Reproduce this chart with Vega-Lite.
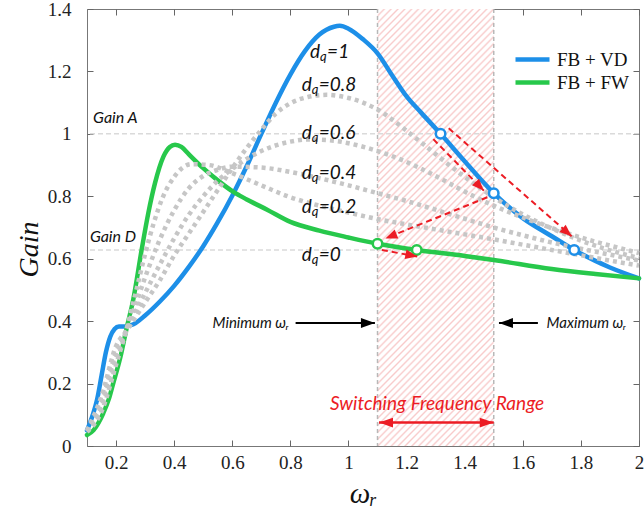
{
  "$schema": "https://vega.github.io/schema/vega-lite/v6.json",
  "width": 552,
  "height": 437,
  "autosize": {"type": "none"},
  "padding": {"left": 87, "top": 9, "right": 5, "bottom": 63},
  "background": "#ffffff",
  "config": {
    "view": {"stroke": "#777777", "strokeWidth": 1},
    "axis": {
      "grid": false,
      "domain": false,
      "ticks": true,
      "tickColor": "#666666",
      "tickSize": 6,
      "tickWidth": 1,
      "offset": -6,
      "zindex": 1,
      "labelFont": "Liberation Serif",
      "labelFontSize": 19,
      "labelColor": "#222222",
      "titleFont": "Liberation Serif",
      "titleFontStyle": "italic",
      "titleFontWeight": "normal",
      "titleColor": "#111111"
    }
  },
  "datasets": {
    "curves": [
      {"w": 0.1, "g": 0.05, "s": "FB + VD"}, {"w": 0.12, "g": 0.1, "s": "FB + VD"}, {"w": 0.135, "g": 0.15, "s": "FB + VD"},
      {"w": 0.15, "g": 0.225, "s": "FB + VD"}, {"w": 0.165, "g": 0.3, "s": "FB + VD"}, {"w": 0.18, "g": 0.35, "s": "FB + VD"},
      {"w": 0.195, "g": 0.375, "s": "FB + VD"}, {"w": 0.21, "g": 0.383, "s": "FB + VD"}, {"w": 0.23, "g": 0.383, "s": "FB + VD"},
      {"w": 0.26, "g": 0.39, "s": "FB + VD"}, {"w": 0.3, "g": 0.418, "s": "FB + VD"}, {"w": 0.35, "g": 0.462, "s": "FB + VD"},
      {"w": 0.4, "g": 0.513, "s": "FB + VD"}, {"w": 0.45, "g": 0.573, "s": "FB + VD"}, {"w": 0.5, "g": 0.64, "s": "FB + VD"},
      {"w": 0.55, "g": 0.717, "s": "FB + VD"}, {"w": 0.6, "g": 0.802, "s": "FB + VD"}, {"w": 0.65, "g": 0.897, "s": "FB + VD"},
      {"w": 0.7, "g": 1.0, "s": "FB + VD"}, {"w": 0.75, "g": 1.1, "s": "FB + VD"}, {"w": 0.8, "g": 1.19, "s": "FB + VD"},
      {"w": 0.85, "g": 1.265, "s": "FB + VD"}, {"w": 0.9, "g": 1.318, "s": "FB + VD"}, {"w": 0.95, "g": 1.343, "s": "FB + VD"},
      {"w": 0.97, "g": 1.346, "s": "FB + VD"}, {"w": 1.0, "g": 1.337, "s": "FB + VD"}, {"w": 1.05, "g": 1.303, "s": "FB + VD"},
      {"w": 1.1, "g": 1.258, "s": "FB + VD"}, {"w": 1.15, "g": 1.188, "s": "FB + VD"}, {"w": 1.2, "g": 1.12, "s": "FB + VD"},
      {"w": 1.25, "g": 1.068, "s": "FB + VD"}, {"w": 1.317, "g": 1.0, "s": "FB + VD"}, {"w": 1.4, "g": 0.912, "s": "FB + VD"},
      {"w": 1.5, "g": 0.81, "s": "FB + VD"}, {"w": 1.6, "g": 0.73, "s": "FB + VD"}, {"w": 1.7, "g": 0.672, "s": "FB + VD"},
      {"w": 1.777, "g": 0.628, "s": "FB + VD"}, {"w": 1.85, "g": 0.593, "s": "FB + VD"}, {"w": 1.9, "g": 0.572, "s": "FB + VD"},
      {"w": 2.0, "g": 0.537, "s": "FB + VD"},
      {"w": 0.1, "g": 0.035, "s": "FB + FW"}, {"w": 0.122, "g": 0.05, "s": "FB + FW"}, {"w": 0.14, "g": 0.075, "s": "FB + FW"},
      {"w": 0.156, "g": 0.105, "s": "FB + FW"}, {"w": 0.175, "g": 0.15, "s": "FB + FW"}, {"w": 0.19, "g": 0.2, "s": "FB + FW"},
      {"w": 0.215, "g": 0.285, "s": "FB + FW"}, {"w": 0.237, "g": 0.38, "s": "FB + FW"}, {"w": 0.259, "g": 0.468, "s": "FB + FW"},
      {"w": 0.288, "g": 0.628, "s": "FB + FW"}, {"w": 0.311, "g": 0.746, "s": "FB + FW"}, {"w": 0.334, "g": 0.842, "s": "FB + FW"},
      {"w": 0.363, "g": 0.927, "s": "FB + FW"}, {"w": 0.385, "g": 0.958, "s": "FB + FW"}, {"w": 0.403, "g": 0.965, "s": "FB + FW"},
      {"w": 0.425, "g": 0.958, "s": "FB + FW"}, {"w": 0.45, "g": 0.935, "s": "FB + FW"}, {"w": 0.5, "g": 0.89, "s": "FB + FW"},
      {"w": 0.55, "g": 0.851, "s": "FB + FW"}, {"w": 0.604, "g": 0.814, "s": "FB + FW"}, {"w": 0.65, "g": 0.79, "s": "FB + FW"},
      {"w": 0.72, "g": 0.757, "s": "FB + FW"}, {"w": 0.8, "g": 0.718, "s": "FB + FW"}, {"w": 0.9, "g": 0.69, "s": "FB + FW"},
      {"w": 1.0, "g": 0.668, "s": "FB + FW"}, {"w": 1.1, "g": 0.648, "s": "FB + FW"}, {"w": 1.235, "g": 0.628, "s": "FB + FW"},
      {"w": 1.4, "g": 0.609, "s": "FB + FW"}, {"w": 1.5, "g": 0.596, "s": "FB + FW"}, {"w": 1.7, "g": 0.567, "s": "FB + FW"},
      {"w": 1.85, "g": 0.551, "s": "FB + FW"}, {"w": 2.0, "g": 0.537, "s": "FB + FW"}
    ],
    "dq": [
      {"w": 0.1, "g": 0.045, "dq": "0.2"}, {"w": 0.15, "g": 0.11, "dq": "0.2"}, {"w": 0.2, "g": 0.26, "dq": "0.2"},
      {"w": 0.237, "g": 0.378, "dq": "0.2"}, {"w": 0.27, "g": 0.5, "dq": "0.2"}, {"w": 0.3, "g": 0.615, "dq": "0.2"},
      {"w": 0.33, "g": 0.715, "dq": "0.2"}, {"w": 0.36, "g": 0.795, "dq": "0.2"}, {"w": 0.4, "g": 0.862, "dq": "0.2"},
      {"w": 0.46, "g": 0.903, "dq": "0.2"}, {"w": 0.52, "g": 0.9, "dq": "0.2"}, {"w": 0.6, "g": 0.874, "dq": "0.2"},
      {"w": 0.7, "g": 0.835, "dq": "0.2"}, {"w": 0.8, "g": 0.797, "dq": "0.2"}, {"w": 0.9, "g": 0.77, "dq": "0.2"},
      {"w": 1.0, "g": 0.748, "dq": "0.2"}, {"w": 1.1, "g": 0.727, "dq": "0.2"}, {"w": 1.2, "g": 0.71, "dq": "0.2"},
      {"w": 1.3, "g": 0.694, "dq": "0.2"}, {"w": 1.4, "g": 0.678, "dq": "0.2"}, {"w": 1.5, "g": 0.662, "dq": "0.2"},
      {"w": 1.6, "g": 0.645, "dq": "0.2"}, {"w": 1.7, "g": 0.628, "dq": "0.2"}, {"w": 1.8, "g": 0.611, "dq": "0.2"},
      {"w": 1.9, "g": 0.594, "dq": "0.2"}, {"w": 2.0, "g": 0.578, "dq": "0.2"},
      {"w": 0.1, "g": 0.047, "dq": "0.4"}, {"w": 0.15, "g": 0.125, "dq": "0.4"}, {"w": 0.2, "g": 0.28, "dq": "0.4"},
      {"w": 0.237, "g": 0.375, "dq": "0.4"}, {"w": 0.27, "g": 0.46, "dq": "0.4"}, {"w": 0.3, "g": 0.54, "dq": "0.4"},
      {"w": 0.35, "g": 0.66, "dq": "0.4"}, {"w": 0.4, "g": 0.755, "dq": "0.4"}, {"w": 0.45, "g": 0.825, "dq": "0.4"},
      {"w": 0.5, "g": 0.865, "dq": "0.4"}, {"w": 0.55, "g": 0.885, "dq": "0.4"}, {"w": 0.6, "g": 0.895, "dq": "0.4"},
      {"w": 0.7, "g": 0.892, "dq": "0.4"}, {"w": 0.8, "g": 0.878, "dq": "0.4"}, {"w": 0.9, "g": 0.858, "dq": "0.4"},
      {"w": 1.0, "g": 0.835, "dq": "0.4"}, {"w": 1.1, "g": 0.81, "dq": "0.4"}, {"w": 1.2, "g": 0.785, "dq": "0.4"},
      {"w": 1.3, "g": 0.757, "dq": "0.4"}, {"w": 1.4, "g": 0.728, "dq": "0.4"}, {"w": 1.5, "g": 0.7, "dq": "0.4"},
      {"w": 1.6, "g": 0.675, "dq": "0.4"}, {"w": 1.7, "g": 0.652, "dq": "0.4"}, {"w": 1.8, "g": 0.632, "dq": "0.4"},
      {"w": 1.9, "g": 0.613, "dq": "0.4"}, {"w": 2.0, "g": 0.594, "dq": "0.4"},
      {"w": 0.1, "g": 0.048, "dq": "0.6"}, {"w": 0.15, "g": 0.14, "dq": "0.6"}, {"w": 0.2, "g": 0.3, "dq": "0.6"},
      {"w": 0.237, "g": 0.372, "dq": "0.6"}, {"w": 0.3, "g": 0.49, "dq": "0.6"}, {"w": 0.35, "g": 0.58, "dq": "0.6"},
      {"w": 0.4, "g": 0.665, "dq": "0.6"}, {"w": 0.45, "g": 0.74, "dq": "0.6"}, {"w": 0.5, "g": 0.8, "dq": "0.6"},
      {"w": 0.55, "g": 0.85, "dq": "0.6"}, {"w": 0.6, "g": 0.888, "dq": "0.6"}, {"w": 0.65, "g": 0.92, "dq": "0.6"},
      {"w": 0.7, "g": 0.945, "dq": "0.6"}, {"w": 0.8, "g": 0.975, "dq": "0.6"}, {"w": 0.86, "g": 0.982, "dq": "0.6"},
      {"w": 0.95, "g": 0.978, "dq": "0.6"}, {"w": 1.0, "g": 0.97, "dq": "0.6"}, {"w": 1.1, "g": 0.945, "dq": "0.6"},
      {"w": 1.2, "g": 0.91, "dq": "0.6"}, {"w": 1.3, "g": 0.865, "dq": "0.6"}, {"w": 1.4, "g": 0.815, "dq": "0.6"},
      {"w": 1.5, "g": 0.77, "dq": "0.6"}, {"w": 1.6, "g": 0.732, "dq": "0.6"}, {"w": 1.7, "g": 0.698, "dq": "0.6"},
      {"w": 1.8, "g": 0.668, "dq": "0.6"}, {"w": 1.9, "g": 0.642, "dq": "0.6"}, {"w": 2.0, "g": 0.618, "dq": "0.6"},
      {"w": 0.1, "g": 0.05, "dq": "0.8"}, {"w": 0.15, "g": 0.16, "dq": "0.8"}, {"w": 0.2, "g": 0.32, "dq": "0.8"},
      {"w": 0.237, "g": 0.37, "dq": "0.8"}, {"w": 0.3, "g": 0.46, "dq": "0.8"}, {"w": 0.35, "g": 0.53, "dq": "0.8"},
      {"w": 0.4, "g": 0.61, "dq": "0.8"}, {"w": 0.45, "g": 0.68, "dq": "0.8"}, {"w": 0.5, "g": 0.75, "dq": "0.8"},
      {"w": 0.55, "g": 0.82, "dq": "0.8"}, {"w": 0.6, "g": 0.89, "dq": "0.8"}, {"w": 0.65, "g": 0.955, "dq": "0.8"},
      {"w": 0.7, "g": 1.013, "dq": "0.8"}, {"w": 0.75, "g": 1.065, "dq": "0.8"}, {"w": 0.8, "g": 1.098, "dq": "0.8"},
      {"w": 0.86, "g": 1.118, "dq": "0.8"}, {"w": 0.925, "g": 1.125, "dq": "0.8"}, {"w": 1.0, "g": 1.115, "dq": "0.8"},
      {"w": 1.1, "g": 1.078, "dq": "0.8"}, {"w": 1.2, "g": 1.01, "dq": "0.8"}, {"w": 1.3, "g": 0.935, "dq": "0.8"},
      {"w": 1.4, "g": 0.862, "dq": "0.8"}, {"w": 1.5, "g": 0.797, "dq": "0.8"}, {"w": 1.6, "g": 0.742, "dq": "0.8"},
      {"w": 1.7, "g": 0.697, "dq": "0.8"}, {"w": 1.8, "g": 0.658, "dq": "0.8"}, {"w": 1.9, "g": 0.627, "dq": "0.8"},
      {"w": 2.0, "g": 0.602, "dq": "0.8"}
    ],
    "marked": [
      {"w": 1.317, "g": 1.0, "s": "FB + VD"},
      {"w": 1.5, "g": 0.81, "s": "FB + VD"},
      {"w": 1.777, "g": 0.628, "s": "FB + VD"},
      {"w": 1.1, "g": 0.648, "s": "FB + FW"},
      {"w": 1.235, "g": 0.628, "s": "FB + FW"}
    ],
    "band": [{"lo": 1.1, "hi": 1.5, "g0": 0, "g1": 1.4}],
    "bounds": [{"w": 1.1}, {"w": 1.5}],
    "gains": [{"g": 1.0}, {"g": 0.628}],
    "redArrows": [
      {"id": "a1", "x": 1.292, "y": 0.983, "x2": 1.466, "y2": 0.818},
      {"id": "a2", "x": 1.345, "y": 1.018, "x2": 1.768, "y2": 0.672},
      {"id": "a3", "x": 1.478, "y": 0.797, "x2": 1.127, "y2": 0.665},
      {"id": "a4", "x": 1.115, "y": 0.628, "x2": 1.237, "y2": 0.607}
    ],
    "limits": [
      {"side": "min", "x": 0.818, "x2": 1.091, "y": 0.394},
      {"side": "max", "x": 1.652, "x2": 1.518, "y": 0.394}
    ],
    "range": [{"x": 1.105, "x2": 1.5, "y": 0.075}],
    "dqLabels": [
      {"x": 0.868, "y": 1.263, "v": "=1"},
      {"x": 0.839, "y": 1.157, "v": "=0.8"},
      {"x": 0.839, "y": 1.002, "v": "=0.6"},
      {"x": 0.839, "y": 0.874, "v": "=0.4"},
      {"x": 0.839, "y": 0.767, "v": "=0.2"},
      {"x": 0.839, "y": 0.612, "v": "=0"}
    ],
    "notes": [
      {"id": "gain", "x": 0.121, "y": 1.051, "t": "Gain A"},
      {"id": "gain", "x": 0.11, "y": 0.671, "t": "Gain D"},
      {"id": "min", "x": 0.795, "y": 0.394, "t": "Minimum ωᵣ"},
      {"id": "max", "x": 1.682, "y": 0.394, "t": "Maximum ωᵣ"},
      {"id": "sw", "x": 1.305, "y": 0.134, "t": "Switching Frequency Range"}
    ]
  },
  "layer": [
    {
      "data": {"name": "band"},
      "mark": {
        "type": "rect",
        "fill": {
          "gradient": "linear", "x1": 0, "y1": 0, "x2": 0.32, "y2": 1.184,
          "stops": [
            {"offset": 0, "color": "#f8caca"}, {"offset": 0.0035, "color": "#ffffff"}, {"offset": 0.009, "color": "#ffffff"},
            {"offset": 0.0125, "color": "#f8caca"}, {"offset": 0.016, "color": "#ffffff"}, {"offset": 0.0215, "color": "#ffffff"},
            {"offset": 0.025, "color": "#f8caca"}, {"offset": 0.0285, "color": "#ffffff"}, {"offset": 0.034, "color": "#ffffff"},
            {"offset": 0.0375, "color": "#f8caca"}, {"offset": 0.041, "color": "#ffffff"}, {"offset": 0.0465, "color": "#ffffff"},
            {"offset": 0.05, "color": "#f8caca"}, {"offset": 0.0535, "color": "#ffffff"}, {"offset": 0.059, "color": "#ffffff"},
            {"offset": 0.0625, "color": "#f8caca"}, {"offset": 0.066, "color": "#ffffff"}, {"offset": 0.0715, "color": "#ffffff"},
            {"offset": 0.075, "color": "#f8caca"}, {"offset": 0.0785, "color": "#ffffff"}, {"offset": 0.084, "color": "#ffffff"},
            {"offset": 0.0875, "color": "#f8caca"}, {"offset": 0.091, "color": "#ffffff"}, {"offset": 0.0965, "color": "#ffffff"},
            {"offset": 0.1, "color": "#f8caca"}, {"offset": 0.1035, "color": "#ffffff"}, {"offset": 0.109, "color": "#ffffff"},
            {"offset": 0.1125, "color": "#f8caca"}, {"offset": 0.116, "color": "#ffffff"}, {"offset": 0.1215, "color": "#ffffff"},
            {"offset": 0.125, "color": "#f8caca"}, {"offset": 0.1285, "color": "#ffffff"}, {"offset": 0.134, "color": "#ffffff"},
            {"offset": 0.1375, "color": "#f8caca"}, {"offset": 0.141, "color": "#ffffff"}, {"offset": 0.1465, "color": "#ffffff"},
            {"offset": 0.15, "color": "#f8caca"}, {"offset": 0.1535, "color": "#ffffff"}, {"offset": 0.159, "color": "#ffffff"},
            {"offset": 0.1625, "color": "#f8caca"}, {"offset": 0.166, "color": "#ffffff"}, {"offset": 0.1715, "color": "#ffffff"},
            {"offset": 0.175, "color": "#f8caca"}, {"offset": 0.1785, "color": "#ffffff"}, {"offset": 0.184, "color": "#ffffff"},
            {"offset": 0.1875, "color": "#f8caca"}, {"offset": 0.191, "color": "#ffffff"}, {"offset": 0.1965, "color": "#ffffff"},
            {"offset": 0.2, "color": "#f8caca"}, {"offset": 0.2035, "color": "#ffffff"}, {"offset": 0.209, "color": "#ffffff"},
            {"offset": 0.2125, "color": "#f8caca"}, {"offset": 0.216, "color": "#ffffff"}, {"offset": 0.2215, "color": "#ffffff"},
            {"offset": 0.225, "color": "#f8caca"}, {"offset": 0.2285, "color": "#ffffff"}, {"offset": 0.234, "color": "#ffffff"},
            {"offset": 0.2375, "color": "#f8caca"}, {"offset": 0.241, "color": "#ffffff"}, {"offset": 0.2465, "color": "#ffffff"},
            {"offset": 0.25, "color": "#f8caca"}, {"offset": 0.2535, "color": "#ffffff"}, {"offset": 0.259, "color": "#ffffff"},
            {"offset": 0.2625, "color": "#f8caca"}, {"offset": 0.266, "color": "#ffffff"}, {"offset": 0.2715, "color": "#ffffff"},
            {"offset": 0.275, "color": "#f8caca"}, {"offset": 0.2785, "color": "#ffffff"}, {"offset": 0.284, "color": "#ffffff"},
            {"offset": 0.2875, "color": "#f8caca"}, {"offset": 0.291, "color": "#ffffff"}, {"offset": 0.2965, "color": "#ffffff"},
            {"offset": 0.3, "color": "#f8caca"}, {"offset": 0.3035, "color": "#ffffff"}, {"offset": 0.309, "color": "#ffffff"},
            {"offset": 0.3125, "color": "#f8caca"}, {"offset": 0.316, "color": "#ffffff"}, {"offset": 0.3215, "color": "#ffffff"},
            {"offset": 0.325, "color": "#f8caca"}, {"offset": 0.3285, "color": "#ffffff"}, {"offset": 0.334, "color": "#ffffff"},
            {"offset": 0.3375, "color": "#f8caca"}, {"offset": 0.341, "color": "#ffffff"}, {"offset": 0.3465, "color": "#ffffff"},
            {"offset": 0.35, "color": "#f8caca"}, {"offset": 0.3535, "color": "#ffffff"}, {"offset": 0.359, "color": "#ffffff"},
            {"offset": 0.3625, "color": "#f8caca"}, {"offset": 0.366, "color": "#ffffff"}, {"offset": 0.3715, "color": "#ffffff"},
            {"offset": 0.375, "color": "#f8caca"}, {"offset": 0.3785, "color": "#ffffff"}, {"offset": 0.384, "color": "#ffffff"},
            {"offset": 0.3875, "color": "#f8caca"}, {"offset": 0.391, "color": "#ffffff"}, {"offset": 0.3965, "color": "#ffffff"},
            {"offset": 0.4, "color": "#f8caca"}, {"offset": 0.4035, "color": "#ffffff"}, {"offset": 0.409, "color": "#ffffff"},
            {"offset": 0.4125, "color": "#f8caca"}, {"offset": 0.416, "color": "#ffffff"}, {"offset": 0.4215, "color": "#ffffff"},
            {"offset": 0.425, "color": "#f8caca"}, {"offset": 0.4285, "color": "#ffffff"}, {"offset": 0.434, "color": "#ffffff"},
            {"offset": 0.4375, "color": "#f8caca"}, {"offset": 0.441, "color": "#ffffff"}, {"offset": 0.4465, "color": "#ffffff"},
            {"offset": 0.45, "color": "#f8caca"}, {"offset": 0.4535, "color": "#ffffff"}, {"offset": 0.459, "color": "#ffffff"},
            {"offset": 0.4625, "color": "#f8caca"}, {"offset": 0.466, "color": "#ffffff"}, {"offset": 0.4715, "color": "#ffffff"},
            {"offset": 0.475, "color": "#f8caca"}, {"offset": 0.4785, "color": "#ffffff"}, {"offset": 0.484, "color": "#ffffff"},
            {"offset": 0.4875, "color": "#f8caca"}, {"offset": 0.491, "color": "#ffffff"}, {"offset": 0.4965, "color": "#ffffff"},
            {"offset": 0.5, "color": "#f8caca"}, {"offset": 0.5035, "color": "#ffffff"}, {"offset": 0.509, "color": "#ffffff"},
            {"offset": 0.5125, "color": "#f8caca"}, {"offset": 0.516, "color": "#ffffff"}, {"offset": 0.5215, "color": "#ffffff"},
            {"offset": 0.525, "color": "#f8caca"}, {"offset": 0.5285, "color": "#ffffff"}, {"offset": 0.534, "color": "#ffffff"},
            {"offset": 0.5375, "color": "#f8caca"}, {"offset": 0.541, "color": "#ffffff"}, {"offset": 0.5465, "color": "#ffffff"},
            {"offset": 0.55, "color": "#f8caca"}, {"offset": 0.5535, "color": "#ffffff"}, {"offset": 0.559, "color": "#ffffff"},
            {"offset": 0.5625, "color": "#f8caca"}, {"offset": 0.566, "color": "#ffffff"}, {"offset": 0.5715, "color": "#ffffff"},
            {"offset": 0.575, "color": "#f8caca"}, {"offset": 0.5785, "color": "#ffffff"}, {"offset": 0.584, "color": "#ffffff"},
            {"offset": 0.5875, "color": "#f8caca"}, {"offset": 0.591, "color": "#ffffff"}, {"offset": 0.5965, "color": "#ffffff"},
            {"offset": 0.6, "color": "#f8caca"}, {"offset": 0.6035, "color": "#ffffff"}, {"offset": 0.609, "color": "#ffffff"},
            {"offset": 0.6125, "color": "#f8caca"}, {"offset": 0.616, "color": "#ffffff"}, {"offset": 0.6215, "color": "#ffffff"},
            {"offset": 0.625, "color": "#f8caca"}, {"offset": 0.6285, "color": "#ffffff"}, {"offset": 0.634, "color": "#ffffff"},
            {"offset": 0.6375, "color": "#f8caca"}, {"offset": 0.641, "color": "#ffffff"}, {"offset": 0.6465, "color": "#ffffff"},
            {"offset": 0.65, "color": "#f8caca"}, {"offset": 0.6535, "color": "#ffffff"}, {"offset": 0.659, "color": "#ffffff"},
            {"offset": 0.6625, "color": "#f8caca"}, {"offset": 0.666, "color": "#ffffff"}, {"offset": 0.6715, "color": "#ffffff"},
            {"offset": 0.675, "color": "#f8caca"}, {"offset": 0.6785, "color": "#ffffff"}, {"offset": 0.684, "color": "#ffffff"},
            {"offset": 0.6875, "color": "#f8caca"}, {"offset": 0.691, "color": "#ffffff"}, {"offset": 0.6965, "color": "#ffffff"},
            {"offset": 0.7, "color": "#f8caca"}, {"offset": 0.7035, "color": "#ffffff"}, {"offset": 0.709, "color": "#ffffff"},
            {"offset": 0.7125, "color": "#f8caca"}, {"offset": 0.716, "color": "#ffffff"}, {"offset": 0.7215, "color": "#ffffff"},
            {"offset": 0.725, "color": "#f8caca"}, {"offset": 0.7285, "color": "#ffffff"}, {"offset": 0.734, "color": "#ffffff"},
            {"offset": 0.7375, "color": "#f8caca"}, {"offset": 0.741, "color": "#ffffff"}, {"offset": 0.7465, "color": "#ffffff"},
            {"offset": 0.75, "color": "#f8caca"}, {"offset": 0.7535, "color": "#ffffff"}, {"offset": 0.759, "color": "#ffffff"},
            {"offset": 0.7625, "color": "#f8caca"}, {"offset": 0.766, "color": "#ffffff"}, {"offset": 0.7715, "color": "#ffffff"},
            {"offset": 0.775, "color": "#f8caca"}, {"offset": 0.7785, "color": "#ffffff"}, {"offset": 0.784, "color": "#ffffff"},
            {"offset": 0.7875, "color": "#f8caca"}, {"offset": 0.791, "color": "#ffffff"}, {"offset": 0.7965, "color": "#ffffff"},
            {"offset": 0.8, "color": "#f8caca"}, {"offset": 0.8035, "color": "#ffffff"}, {"offset": 0.809, "color": "#ffffff"},
            {"offset": 0.8125, "color": "#f8caca"}, {"offset": 0.816, "color": "#ffffff"}, {"offset": 0.8215, "color": "#ffffff"},
            {"offset": 0.825, "color": "#f8caca"}, {"offset": 0.8285, "color": "#ffffff"}, {"offset": 0.834, "color": "#ffffff"},
            {"offset": 0.8375, "color": "#f8caca"}, {"offset": 0.841, "color": "#ffffff"}, {"offset": 0.8465, "color": "#ffffff"},
            {"offset": 0.85, "color": "#f8caca"}, {"offset": 0.8535, "color": "#ffffff"}, {"offset": 0.859, "color": "#ffffff"},
            {"offset": 0.8625, "color": "#f8caca"}, {"offset": 0.866, "color": "#ffffff"}, {"offset": 0.8715, "color": "#ffffff"},
            {"offset": 0.875, "color": "#f8caca"}, {"offset": 0.8785, "color": "#ffffff"}, {"offset": 0.884, "color": "#ffffff"},
            {"offset": 0.8875, "color": "#f8caca"}, {"offset": 0.891, "color": "#ffffff"}, {"offset": 0.8965, "color": "#ffffff"},
            {"offset": 0.9, "color": "#f8caca"}, {"offset": 0.9035, "color": "#ffffff"}, {"offset": 0.909, "color": "#ffffff"},
            {"offset": 0.9125, "color": "#f8caca"}, {"offset": 0.916, "color": "#ffffff"}, {"offset": 0.9215, "color": "#ffffff"},
            {"offset": 0.925, "color": "#f8caca"}, {"offset": 0.9285, "color": "#ffffff"}, {"offset": 0.934, "color": "#ffffff"},
            {"offset": 0.9375, "color": "#f8caca"}, {"offset": 0.941, "color": "#ffffff"}, {"offset": 0.9465, "color": "#ffffff"},
            {"offset": 0.95, "color": "#f8caca"}, {"offset": 0.9535, "color": "#ffffff"}, {"offset": 0.959, "color": "#ffffff"},
            {"offset": 0.9625, "color": "#f8caca"}, {"offset": 0.966, "color": "#ffffff"}, {"offset": 0.9715, "color": "#ffffff"},
            {"offset": 0.975, "color": "#f8caca"}, {"offset": 0.9785, "color": "#ffffff"}, {"offset": 0.984, "color": "#ffffff"},
            {"offset": 0.9875, "color": "#f8caca"}, {"offset": 0.991, "color": "#ffffff"}, {"offset": 0.9965, "color": "#ffffff"},
            {"offset": 1, "color": "#f8caca"}
          ]
        }
      },
      "encoding": {
        "x": {
          "field": "lo", "type": "quantitative",
          "scale": {"domain": [0.1, 2], "nice": false, "zero": false},
          "axis": {
            "orient": "bottom",
            "values": [0.2, 0.4, 0.6, 0.8, 1, 1.2, 1.4, 1.6, 1.8, 2],
            "format": ".1~f", "labelPadding": 7, "labelFlush": false,
            "title": "ωᵣ", "titleFontSize": 29, "titlePadding": 7
          }
        },
        "x2": {"field": "hi"},
        "y": {
          "field": "g0", "type": "quantitative",
          "scale": {"domain": [0, 1.4], "nice": false, "zero": false},
          "axis": {
            "orient": "left",
            "values": [0, 0.2, 0.4, 0.6, 0.8, 1, 1.2, 1.4],
            "format": ".1~f", "labelPadding": 16,
            "title": "Gain", "titleFontSize": 28,
            "titleAngle": -90, "titleAlign": "center", "titleBaseline": "middle",
            "titleX": -64, "titleY": 240
          }
        },
        "y2": {"field": "g1"}
      }
    },
    {
      "data": {"name": "bounds"},
      "mark": {"type": "rule", "color": "#b8b8b8", "strokeWidth": 1.5, "strokeDash": [4, 3]},
      "encoding": {"x": {"field": "w", "type": "quantitative", "axis": null}}
    },
    {
      "data": {"name": "gains"},
      "mark": {"type": "rule", "color": "#dadada", "strokeWidth": 1.5, "strokeDash": [5, 3]},
      "encoding": {"y": {"field": "g", "type": "quantitative", "axis": null}}
    },
    {
      "data": {"name": "curves"},
      "mark": {"type": "line", "interpolate": "monotone", "strokeWidth": 4.5, "strokeCap": "round"},
      "encoding": {
        "x": {"field": "w", "type": "quantitative", "axis": null},
        "y": {"field": "g", "type": "quantitative", "axis": null},
        "color": {
          "field": "s", "type": "nominal",
          "scale": {"domain": ["FB + VD", "FB + FW"], "range": ["#1d8fe8", "#27c84b"]},
          "legend": {
            "orient": "none", "legendX": 426, "legendY": 39, "title": null,
            "symbolType": "stroke", "symbolSize": 1156, "symbolStrokeWidth": 4.5,
            "labelFont": "Liberation Serif", "labelFontSize": 19, "labelColor": "#111111",
            "labelOffset": 5, "rowPadding": 0, "padding": 0, "clipHeight": 23
          }
        }
      }
    },
    {
      "data": {"name": "dq"},
      "mark": {"type": "line", "interpolate": "monotone", "strokeWidth": 4.5, "strokeDash": [4, 4], "color": "#c6c6c6"},
      "encoding": {
        "x": {"field": "w", "type": "quantitative", "axis": null},
        "y": {"field": "g", "type": "quantitative", "axis": null},
        "detail": {"field": "dq", "type": "nominal"}
      }
    },
    {
      "data": {"name": "marked"},
      "mark": {"type": "point", "shape": "circle", "filled": false, "fill": "#ffffff", "fillOpacity": 1, "opacity": 1, "size": 90, "strokeWidth": 2.5},
      "encoding": {
        "x": {
          "field": "w", "type": "quantitative",
          "axis": {"orient": "top", "values": [0.2, 0.4, 0.6, 0.8, 1, 1.2, 1.4, 1.6, 1.8, 2], "labels": false, "title": null}
        },
        "y": {
          "field": "g", "type": "quantitative",
          "axis": {"orient": "right", "values": [0, 0.2, 0.4, 0.6, 0.8, 1, 1.2, 1.4], "labels": false, "title": null}
        },
        "color": {"field": "s", "type": "nominal", "legend": null}
      }
    },
    {
      "data": {"name": "redArrows"},
      "mark": {"type": "rule", "color": "#ec1c24", "strokeWidth": 2, "strokeDash": [6, 4]},
      "encoding": {
        "x": {"field": "x", "type": "quantitative", "axis": null},
        "y": {"field": "y", "type": "quantitative", "axis": null},
        "x2": {"field": "x2"},
        "y2": {"field": "y2"}
      }
    },
    {
      "data": {"name": "redArrows"},
      "transform": [{"filter": "datum.id === 'a1'"}],
      "mark": {"type": "point", "shape": "M0,0L0.8,2L-0.8,2Z", "filled": true, "opacity": 1, "color": "#ec1c24", "size": 144, "angle": 136},
      "encoding": {"x": {"field": "x2", "type": "quantitative", "axis": null}, "y": {"field": "y2", "type": "quantitative", "axis": null}}
    },
    {
      "data": {"name": "redArrows"},
      "transform": [{"filter": "datum.id === 'a2'"}],
      "mark": {"type": "point", "shape": "M0,0L0.8,2L-0.8,2Z", "filled": true, "opacity": 1, "color": "#ec1c24", "size": 144, "angle": 131},
      "encoding": {"x": {"field": "x2", "type": "quantitative", "axis": null}, "y": {"field": "y2", "type": "quantitative", "axis": null}}
    },
    {
      "data": {"name": "redArrows"},
      "transform": [{"filter": "datum.id === 'a3'"}],
      "mark": {"type": "point", "shape": "M0,0L0.8,2L-0.8,2Z", "filled": true, "opacity": 1, "color": "#ec1c24", "size": 144, "angle": 248},
      "encoding": {"x": {"field": "x2", "type": "quantitative", "axis": null}, "y": {"field": "y2", "type": "quantitative", "axis": null}}
    },
    {
      "data": {"name": "redArrows"},
      "transform": [{"filter": "datum.id === 'a4'"}],
      "mark": {"type": "point", "shape": "M0,0L0.8,2L-0.8,2Z", "filled": true, "opacity": 1, "color": "#ec1c24", "size": 144, "angle": 101},
      "encoding": {"x": {"field": "x2", "type": "quantitative", "axis": null}, "y": {"field": "y2", "type": "quantitative", "axis": null}}
    },
    {
      "data": {"name": "limits"},
      "mark": {"type": "rule", "color": "#000000", "strokeWidth": 2},
      "encoding": {
        "x": {"field": "x", "type": "quantitative", "axis": null},
        "x2": {"field": "x2"},
        "y": {"field": "y", "type": "quantitative", "axis": null}
      }
    },
    {
      "data": {"name": "limits"},
      "transform": [{"filter": "datum.side === 'min'"}],
      "mark": {"type": "point", "shape": "M0,0L0.7,2L-0.7,2Z", "filled": true, "opacity": 1, "color": "#000000", "size": 196, "angle": 90},
      "encoding": {"x": {"field": "x2", "type": "quantitative", "axis": null}, "y": {"field": "y", "type": "quantitative", "axis": null}}
    },
    {
      "data": {"name": "limits"},
      "transform": [{"filter": "datum.side === 'max'"}],
      "mark": {"type": "point", "shape": "M0,0L0.7,2L-0.7,2Z", "filled": true, "opacity": 1, "color": "#000000", "size": 196, "angle": 270},
      "encoding": {"x": {"field": "x2", "type": "quantitative", "axis": null}, "y": {"field": "y", "type": "quantitative", "axis": null}}
    },
    {
      "data": {"name": "range"},
      "mark": {"type": "rule", "color": "#ec1c24", "strokeWidth": 2.5},
      "encoding": {
        "x": {"field": "x", "type": "quantitative", "axis": null},
        "x2": {"field": "x2"},
        "y": {"field": "y", "type": "quantitative", "axis": null}
      }
    },
    {
      "data": {"name": "range"},
      "mark": {"type": "point", "shape": "M0,0L0.7,2L-0.7,2Z", "filled": true, "opacity": 1, "color": "#ec1c24", "size": 196, "angle": 270},
      "encoding": {"x": {"field": "x", "type": "quantitative", "axis": null}, "y": {"field": "y", "type": "quantitative", "axis": null}}
    },
    {
      "data": {"name": "range"},
      "mark": {"type": "point", "shape": "M0,0L0.7,2L-0.7,2Z", "filled": true, "opacity": 1, "color": "#ec1c24", "size": 196, "angle": 90},
      "encoding": {"x": {"field": "x2", "type": "quantitative", "axis": null}, "y": {"field": "y", "type": "quantitative", "axis": null}}
    },
    {
      "data": {"name": "dqLabels"},
      "mark": {"type": "text", "text": "d", "align": "left", "baseline": "middle", "font": "Lato", "fontStyle": "italic", "fontSize": 19, "color": "#111111"},
      "encoding": {"x": {"field": "x", "type": "quantitative", "axis": null}, "y": {"field": "y", "type": "quantitative", "axis": null}}
    },
    {
      "data": {"name": "dqLabels"},
      "mark": {"type": "text", "text": "q", "align": "left", "baseline": "middle", "font": "Lato", "fontStyle": "italic", "fontSize": 13, "color": "#111111", "dx": 10, "dy": 5},
      "encoding": {"x": {"field": "x", "type": "quantitative", "axis": null}, "y": {"field": "y", "type": "quantitative", "axis": null}}
    },
    {
      "data": {"name": "dqLabels"},
      "mark": {"type": "text", "align": "left", "baseline": "middle", "font": "Lato", "fontStyle": "italic", "fontSize": 19, "color": "#111111", "dx": 17},
      "encoding": {
        "x": {"field": "x", "type": "quantitative", "axis": null},
        "y": {"field": "y", "type": "quantitative", "axis": null},
        "text": {"field": "v", "type": "nominal"}
      }
    },
    {
      "data": {"name": "notes"},
      "transform": [{"filter": "datum.id === 'gain'"}],
      "mark": {"type": "text", "align": "left", "baseline": "middle", "font": "Lato", "fontStyle": "italic", "fontSize": 16, "color": "#111111"},
      "encoding": {
        "x": {"field": "x", "type": "quantitative", "axis": null},
        "y": {"field": "y", "type": "quantitative", "axis": null},
        "text": {"field": "t", "type": "nominal"}
      }
    },
    {
      "data": {"name": "notes"},
      "transform": [{"filter": "datum.id === 'min'"}],
      "mark": {"type": "text", "align": "right", "baseline": "middle", "font": "Lato", "fontStyle": "italic", "fontSize": 15, "color": "#111111"},
      "encoding": {
        "x": {"field": "x", "type": "quantitative", "axis": null},
        "y": {"field": "y", "type": "quantitative", "axis": null},
        "text": {"field": "t", "type": "nominal"}
      }
    },
    {
      "data": {"name": "notes"},
      "transform": [{"filter": "datum.id === 'max'"}],
      "mark": {"type": "text", "align": "left", "baseline": "middle", "font": "Lato", "fontStyle": "italic", "fontSize": 15, "color": "#111111"},
      "encoding": {
        "x": {"field": "x", "type": "quantitative", "axis": null},
        "y": {"field": "y", "type": "quantitative", "axis": null},
        "text": {"field": "t", "type": "nominal"}
      }
    },
    {
      "data": {"name": "notes"},
      "transform": [{"filter": "datum.id === 'sw'"}],
      "mark": {"type": "text", "align": "center", "baseline": "middle", "font": "Lato", "fontStyle": "italic", "fontSize": 19, "color": "#ec1c24"},
      "encoding": {
        "x": {"field": "x", "type": "quantitative", "axis": null},
        "y": {"field": "y", "type": "quantitative", "axis": null},
        "text": {"field": "t", "type": "nominal"}
      }
    }
  ],
  "resolve": {"axis": {"x": "independent", "y": "independent"}}
}
